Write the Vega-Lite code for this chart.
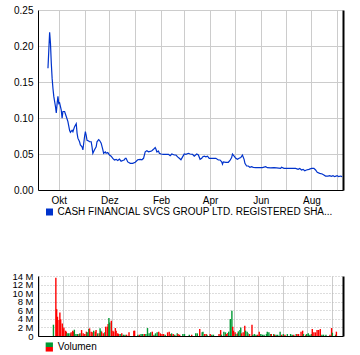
{
  "$schema": "https://vega.github.io/schema/vega-lite/v6.json",
  "padding": {"left": 11, "top": 5, "right": 5, "bottom": 2},
  "spacing": 54,
  "config": {
    "view": {"stroke": null},
    "axis": {"labelFont": "Liberation Sans", "labelFontSize": 10, "labelColor": "#000000", "gridColor": "#cccccc", "gridWidth": 1, "domainColor": "#000000", "domainWidth": 1, "ticks": false},
    "legend": {"labelFont": "Liberation Sans", "labelFontSize": 10, "labelColor": "#000000", "padding": 0}
  },
  "resolve": {"scale": {"color": "independent", "fill": "independent", "x": "independent", "y": "independent"}, "legend": {"color": "independent", "fill": "independent"}},
  "datasets": {
    "price": [
      {"date": "2022-09-18", "price": 0.169}, {"date": "2022-09-19", "price": 0.194}, {"date": "2022-09-20", "price": 0.219}, {"date": "2022-09-21", "price": 0.204}, {"date": "2022-09-22", "price": 0.176}, {"date": "2022-09-23", "price": 0.155}, {"date": "2022-09-24", "price": 0.141}, {"date": "2022-09-25", "price": 0.130}, {"date": "2022-09-27", "price": 0.116}, {"date": "2022-09-28", "price": 0.107}, {"date": "2022-09-29", "price": 0.120}, {"date": "2022-09-30", "price": 0.130},
      {"date": "2022-10-01", "price": 0.120}, {"date": "2022-10-02", "price": 0.121}, {"date": "2022-10-04", "price": 0.111}, {"date": "2022-10-05", "price": 0.0996}, {"date": "2022-10-06", "price": 0.109}, {"date": "2022-10-08", "price": 0.109}, {"date": "2022-10-10", "price": 0.102}, {"date": "2022-10-12", "price": 0.095}, {"date": "2022-10-14", "price": 0.083}, {"date": "2022-10-15", "price": 0.080}, {"date": "2022-10-17", "price": 0.083}, {"date": "2022-10-18", "price": 0.081}, {"date": "2022-10-20", "price": 0.088}, {"date": "2022-10-22", "price": 0.092}, {"date": "2022-10-23", "price": 0.079}, {"date": "2022-10-24", "price": 0.072}, {"date": "2022-10-26", "price": 0.067}, {"date": "2022-10-27", "price": 0.0625}, {"date": "2022-10-29", "price": 0.060}, {"date": "2022-10-30", "price": 0.0556},
      {"date": "2022-11-01", "price": 0.074}, {"date": "2022-11-02", "price": 0.081}, {"date": "2022-11-03", "price": 0.076}, {"date": "2022-11-04", "price": 0.069}, {"date": "2022-11-06", "price": 0.068}, {"date": "2022-11-07", "price": 0.067}, {"date": "2022-11-09", "price": 0.067}, {"date": "2022-11-10", "price": 0.060}, {"date": "2022-11-11", "price": 0.051}, {"date": "2022-11-13", "price": 0.056}, {"date": "2022-11-15", "price": 0.060}, {"date": "2022-11-16", "price": 0.067}, {"date": "2022-11-18", "price": 0.070}, {"date": "2022-11-19", "price": 0.069}, {"date": "2022-11-21", "price": 0.065}, {"date": "2022-11-23", "price": 0.056}, {"date": "2022-11-24", "price": 0.051}, {"date": "2022-11-26", "price": 0.053}, {"date": "2022-11-27", "price": 0.051}, {"date": "2022-11-29", "price": 0.052},
      {"date": "2022-12-01", "price": 0.0486}, {"date": "2022-12-03", "price": 0.047}, {"date": "2022-12-05", "price": 0.044}, {"date": "2022-12-07", "price": 0.0417}, {"date": "2022-12-09", "price": 0.0426}, {"date": "2022-12-11", "price": 0.041}, {"date": "2022-12-13", "price": 0.043}, {"date": "2022-12-15", "price": 0.040}, {"date": "2022-12-17", "price": 0.041}, {"date": "2022-12-19", "price": 0.042}, {"date": "2022-12-20", "price": 0.044}, {"date": "2022-12-21", "price": 0.044}, {"date": "2022-12-23", "price": 0.039}, {"date": "2022-12-26", "price": 0.037}, {"date": "2022-12-29", "price": 0.037},
      {"date": "2023-01-01", "price": 0.0385}, {"date": "2023-01-04", "price": 0.042}, {"date": "2023-01-07", "price": 0.0426}, {"date": "2023-01-09", "price": 0.042}, {"date": "2023-01-11", "price": 0.044}, {"date": "2023-01-13", "price": 0.053}, {"date": "2023-01-15", "price": 0.0546}, {"date": "2023-01-17", "price": 0.053}, {"date": "2023-01-20", "price": 0.054}, {"date": "2023-01-21", "price": 0.0546}, {"date": "2023-01-23", "price": 0.0565}, {"date": "2023-01-25", "price": 0.059}, {"date": "2023-01-26", "price": 0.0565}, {"date": "2023-01-27", "price": 0.053}, {"date": "2023-01-29", "price": 0.054}, {"date": "2023-01-30", "price": 0.051},
      {"date": "2023-02-01", "price": 0.050}, {"date": "2023-02-04", "price": 0.0496}, {"date": "2023-02-07", "price": 0.0496}, {"date": "2023-02-10", "price": 0.0496}, {"date": "2023-02-12", "price": 0.0476}, {"date": "2023-02-14", "price": 0.050}, {"date": "2023-02-17", "price": 0.0486}, {"date": "2023-02-19", "price": 0.0486}, {"date": "2023-02-21", "price": 0.046}, {"date": "2023-02-23", "price": 0.044}, {"date": "2023-02-25", "price": 0.042}, {"date": "2023-02-27", "price": 0.046},
      {"date": "2023-03-01", "price": 0.050}, {"date": "2023-03-03", "price": 0.0496}, {"date": "2023-03-06", "price": 0.051}, {"date": "2023-03-08", "price": 0.050}, {"date": "2023-03-11", "price": 0.0496}, {"date": "2023-03-13", "price": 0.047}, {"date": "2023-03-16", "price": 0.050}, {"date": "2023-03-18", "price": 0.0486}, {"date": "2023-03-20", "price": 0.0426}, {"date": "2023-03-22", "price": 0.044}, {"date": "2023-03-23", "price": 0.046}, {"date": "2023-03-25", "price": 0.047}, {"date": "2023-03-27", "price": 0.046}, {"date": "2023-03-29", "price": 0.047}, {"date": "2023-03-31", "price": 0.044},
      {"date": "2023-04-04", "price": 0.044}, {"date": "2023-04-08", "price": 0.044}, {"date": "2023-04-11", "price": 0.0417}, {"date": "2023-04-13", "price": 0.0417}, {"date": "2023-04-15", "price": 0.039}, {"date": "2023-04-16", "price": 0.0357}, {"date": "2023-04-17", "price": 0.039}, {"date": "2023-04-20", "price": 0.0385}, {"date": "2023-04-23", "price": 0.0385}, {"date": "2023-04-25", "price": 0.041}, {"date": "2023-04-27", "price": 0.045}, {"date": "2023-04-28", "price": 0.050}, {"date": "2023-04-30", "price": 0.047},
      {"date": "2023-05-02", "price": 0.044}, {"date": "2023-05-04", "price": 0.0426}, {"date": "2023-05-06", "price": 0.044}, {"date": "2023-05-08", "price": 0.045}, {"date": "2023-05-10", "price": 0.0486}, {"date": "2023-05-12", "price": 0.0426}, {"date": "2023-05-13", "price": 0.037}, {"date": "2023-05-15", "price": 0.0333}, {"date": "2023-05-17", "price": 0.0333}, {"date": "2023-05-19", "price": 0.0315}, {"date": "2023-05-21", "price": 0.0324}, {"date": "2023-05-23", "price": 0.0315}, {"date": "2023-05-26", "price": 0.031}, {"date": "2023-05-30", "price": 0.031},
      {"date": "2023-06-03", "price": 0.031}, {"date": "2023-06-07", "price": 0.0324}, {"date": "2023-06-09", "price": 0.031}, {"date": "2023-06-13", "price": 0.0306}, {"date": "2023-06-17", "price": 0.031}, {"date": "2023-06-20", "price": 0.0306}, {"date": "2023-06-25", "price": 0.030}, {"date": "2023-06-26", "price": 0.0315}, {"date": "2023-06-29", "price": 0.030},
      {"date": "2023-07-05", "price": 0.030}, {"date": "2023-07-13", "price": 0.030}, {"date": "2023-07-16", "price": 0.0287}, {"date": "2023-07-18", "price": 0.030}, {"date": "2023-07-20", "price": 0.0278}, {"date": "2023-07-22", "price": 0.0287}, {"date": "2023-07-24", "price": 0.0268}, {"date": "2023-07-26", "price": 0.0278}, {"date": "2023-07-29", "price": 0.0287},
      {"date": "2023-08-01", "price": 0.030}, {"date": "2023-08-04", "price": 0.030}, {"date": "2023-08-06", "price": 0.0278}, {"date": "2023-08-08", "price": 0.0245}, {"date": "2023-08-11", "price": 0.0231}, {"date": "2023-08-14", "price": 0.0222}, {"date": "2023-08-16", "price": 0.0208}, {"date": "2023-08-18", "price": 0.0194}, {"date": "2023-08-21", "price": 0.0194}, {"date": "2023-08-23", "price": 0.0199}, {"date": "2023-08-25", "price": 0.019}, {"date": "2023-08-27", "price": 0.0199}, {"date": "2023-08-29", "price": 0.0185},
      {"date": "2023-09-01", "price": 0.0199}, {"date": "2023-09-03", "price": 0.0185}, {"date": "2023-09-05", "price": 0.0194}, {"date": "2023-09-07", "price": 0.0185}
    ],
    "volume": [
      {"date": "2022-09-19", "volume": 2630000, "dir": "up"}, {"date": "2022-09-22", "volume": 13600000, "dir": "down"}, {"date": "2022-09-23", "volume": 6260000, "dir": "down"}, {"date": "2022-09-24", "volume": 4490000, "dir": "down"}, {"date": "2022-09-26", "volume": 3710000, "dir": "down"}, {"date": "2022-09-27", "volume": 5490000, "dir": "down"}, {"date": "2022-09-28", "volume": 3900000, "dir": "down"}, {"date": "2022-09-30", "volume": 2940000, "dir": "down"},
      {"date": "2022-10-01", "volume": 1620000, "dir": "down"}, {"date": "2022-10-02", "volume": 2010000, "dir": "down"}, {"date": "2022-10-04", "volume": 1240000, "dir": "down"}, {"date": "2022-10-05", "volume": 1010000, "dir": "down"}, {"date": "2022-10-06", "volume": 620000, "dir": "up"}, {"date": "2022-10-08", "volume": 620000, "dir": "up"}, {"date": "2022-10-10", "volume": 620000, "dir": "up"}, {"date": "2022-10-11", "volume": 850000, "dir": "down"}, {"date": "2022-10-13", "volume": 1240000, "dir": "down"}, {"date": "2022-10-14", "volume": 1010000, "dir": "down"}, {"date": "2022-10-15", "volume": 1470000, "dir": "up"}, {"date": "2022-10-17", "volume": 460000, "dir": "up"}, {"date": "2022-10-19", "volume": 460000, "dir": "up"}, {"date": "2022-10-21", "volume": 460000, "dir": "down"}, {"date": "2022-10-22", "volume": 620000, "dir": "up"}, {"date": "2022-10-24", "volume": 1390000, "dir": "down"}, {"date": "2022-10-26", "volume": 620000, "dir": "down"}, {"date": "2022-10-28", "volume": 460000, "dir": "down"}, {"date": "2022-10-30", "volume": 1010000, "dir": "down"}, {"date": "2022-10-31", "volume": 850000, "dir": "up"},
      {"date": "2022-11-02", "volume": 1620000, "dir": "up"}, {"date": "2022-11-03", "volume": 1780000, "dir": "down"}, {"date": "2022-11-05", "volume": 1010000, "dir": "down"}, {"date": "2022-11-07", "volume": 850000, "dir": "down"}, {"date": "2022-11-08", "volume": 1240000, "dir": "up"}, {"date": "2022-11-10", "volume": 1010000, "dir": "down"}, {"date": "2022-11-11", "volume": 1390000, "dir": "down"}, {"date": "2022-11-13", "volume": 620000, "dir": "up"}, {"date": "2022-11-15", "volume": 620000, "dir": "down"}, {"date": "2022-11-16", "volume": 1780000, "dir": "up"}, {"date": "2022-11-17", "volume": 1240000, "dir": "up"}, {"date": "2022-11-18", "volume": 1010000, "dir": "down"}, {"date": "2022-11-20", "volume": 620000, "dir": "down"}, {"date": "2022-11-22", "volume": 850000, "dir": "up"}, {"date": "2022-11-23", "volume": 2170000, "dir": "down"}, {"date": "2022-11-25", "volume": 2170000, "dir": "down"}, {"date": "2022-11-26", "volume": 2780000, "dir": "down"}, {"date": "2022-11-27", "volume": 4180000, "dir": "up"}, {"date": "2022-11-28", "volume": 3170000, "dir": "up"}, {"date": "2022-11-30", "volume": 3560000, "dir": "down"},
      {"date": "2022-12-02", "volume": 1240000, "dir": "down"}, {"date": "2022-12-03", "volume": 1010000, "dir": "down"}, {"date": "2022-12-05", "volume": 1860000, "dir": "down"}, {"date": "2022-12-06", "volume": 1240000, "dir": "down"}, {"date": "2022-12-08", "volume": 620000, "dir": "down"}, {"date": "2022-12-09", "volume": 460000, "dir": "down"}, {"date": "2022-12-11", "volume": 460000, "dir": "up"}, {"date": "2022-12-13", "volume": 620000, "dir": "down"}, {"date": "2022-12-15", "volume": 310000, "dir": "up"}, {"date": "2022-12-17", "volume": 310000, "dir": "up"}, {"date": "2022-12-19", "volume": 310000, "dir": "down"}, {"date": "2022-12-22", "volume": 850000, "dir": "down"}, {"date": "2022-12-28", "volume": 1240000, "dir": "down"}, {"date": "2022-12-29", "volume": 1240000, "dir": "down"},
      {"date": "2023-01-02", "volume": 310000, "dir": "up"}, {"date": "2023-01-04", "volume": 310000, "dir": "down"}, {"date": "2023-01-06", "volume": 460000, "dir": "up"}, {"date": "2023-01-08", "volume": 460000, "dir": "up"}, {"date": "2023-01-10", "volume": 460000, "dir": "down"}, {"date": "2023-01-12", "volume": 460000, "dir": "up"}, {"date": "2023-01-14", "volume": 1860000, "dir": "up"}, {"date": "2023-01-16", "volume": 620000, "dir": "up"}, {"date": "2023-01-18", "volume": 850000, "dir": "up"}, {"date": "2023-01-20", "volume": 1010000, "dir": "down"}, {"date": "2023-01-22", "volume": 310000, "dir": "up"}, {"date": "2023-01-24", "volume": 620000, "dir": "up"}, {"date": "2023-01-26", "volume": 850000, "dir": "up"}, {"date": "2023-01-28", "volume": 1010000, "dir": "down"}, {"date": "2023-01-30", "volume": 620000, "dir": "down"},
      {"date": "2023-02-01", "volume": 460000, "dir": "down"}, {"date": "2023-02-03", "volume": 460000, "dir": "down"}, {"date": "2023-02-05", "volume": 310000, "dir": "up"}, {"date": "2023-02-08", "volume": 850000, "dir": "down"}, {"date": "2023-02-10", "volume": 1010000, "dir": "down"}, {"date": "2023-02-12", "volume": 460000, "dir": "down"}, {"date": "2023-02-13", "volume": 620000, "dir": "up"}, {"date": "2023-02-15", "volume": 460000, "dir": "down"}, {"date": "2023-02-17", "volume": 310000, "dir": "up"}, {"date": "2023-02-20", "volume": 620000, "dir": "up"}, {"date": "2023-02-21", "volume": 460000, "dir": "down"}, {"date": "2023-02-23", "volume": 310000, "dir": "down"}, {"date": "2023-02-27", "volume": 460000, "dir": "up"},
      {"date": "2023-03-01", "volume": 460000, "dir": "up"}, {"date": "2023-03-07", "volume": 310000, "dir": "up"}, {"date": "2023-03-10", "volume": 310000, "dir": "down"}, {"date": "2023-03-15", "volume": 620000, "dir": "up"}, {"date": "2023-03-17", "volume": 620000, "dir": "up"}, {"date": "2023-03-20", "volume": 1620000, "dir": "down"}, {"date": "2023-03-23", "volume": 850000, "dir": "up"}, {"date": "2023-03-24", "volume": 1010000, "dir": "up"}, {"date": "2023-03-26", "volume": 460000, "dir": "down"}, {"date": "2023-03-28", "volume": 460000, "dir": "down"}, {"date": "2023-03-29", "volume": 310000, "dir": "up"},
      {"date": "2023-04-02", "volume": 460000, "dir": "down"}, {"date": "2023-04-04", "volume": 310000, "dir": "up"}, {"date": "2023-04-06", "volume": 310000, "dir": "up"}, {"date": "2023-04-13", "volume": 460000, "dir": "down"}, {"date": "2023-04-15", "volume": 1390000, "dir": "down"}, {"date": "2023-04-16", "volume": 310000, "dir": "up"}, {"date": "2023-04-19", "volume": 1010000, "dir": "up"}, {"date": "2023-04-21", "volume": 850000, "dir": "up"}, {"date": "2023-04-22", "volume": 460000, "dir": "down"}, {"date": "2023-04-24", "volume": 700000, "dir": "down"}, {"date": "2023-04-25", "volume": 1010000, "dir": "up"}, {"date": "2023-04-27", "volume": 3940000, "dir": "up"}, {"date": "2023-04-29", "volume": 5880000, "dir": "up"}, {"date": "2023-04-30", "volume": 2170000, "dir": "down"},
      {"date": "2023-05-01", "volume": 1240000, "dir": "down"}, {"date": "2023-05-03", "volume": 850000, "dir": "down"}, {"date": "2023-05-04", "volume": 460000, "dir": "up"}, {"date": "2023-05-06", "volume": 620000, "dir": "down"}, {"date": "2023-05-07", "volume": 1080000, "dir": "up"}, {"date": "2023-05-09", "volume": 1390000, "dir": "up"}, {"date": "2023-05-10", "volume": 2010000, "dir": "up"}, {"date": "2023-05-11", "volume": 620000, "dir": "down"}, {"date": "2023-05-13", "volume": 850000, "dir": "down"}, {"date": "2023-05-15", "volume": 2400000, "dir": "down"}, {"date": "2023-05-16", "volume": 1240000, "dir": "up"}, {"date": "2023-05-18", "volume": 1010000, "dir": "up"}, {"date": "2023-05-19", "volume": 620000, "dir": "up"}, {"date": "2023-05-21", "volume": 460000, "dir": "down"}, {"date": "2023-05-24", "volume": 2630000, "dir": "down"}, {"date": "2023-05-25", "volume": 310000, "dir": "up"}, {"date": "2023-05-27", "volume": 460000, "dir": "up"}, {"date": "2023-05-29", "volume": 310000, "dir": "up"}, {"date": "2023-05-31", "volume": 310000, "dir": "down"},
      {"date": "2023-06-02", "volume": 1010000, "dir": "down"}, {"date": "2023-06-04", "volume": 460000, "dir": "up"}, {"date": "2023-06-06", "volume": 310000, "dir": "up"}, {"date": "2023-06-08", "volume": 310000, "dir": "up"}, {"date": "2023-06-11", "volume": 460000, "dir": "up"}, {"date": "2023-06-12", "volume": 1010000, "dir": "up"}, {"date": "2023-06-14", "volume": 850000, "dir": "up"}, {"date": "2023-06-16", "volume": 460000, "dir": "up"}, {"date": "2023-06-17", "volume": 460000, "dir": "down"}, {"date": "2023-06-20", "volume": 460000, "dir": "up"}, {"date": "2023-06-21", "volume": 310000, "dir": "down"}, {"date": "2023-06-23", "volume": 310000, "dir": "up"}, {"date": "2023-06-25", "volume": 310000, "dir": "up"}, {"date": "2023-06-28", "volume": 1010000, "dir": "up"}, {"date": "2023-06-30", "volume": 310000, "dir": "down"},
      {"date": "2023-07-02", "volume": 460000, "dir": "up"}, {"date": "2023-07-04", "volume": 310000, "dir": "down"}, {"date": "2023-07-07", "volume": 460000, "dir": "up"}, {"date": "2023-07-11", "volume": 460000, "dir": "up"}, {"date": "2023-07-13", "volume": 310000, "dir": "up"}, {"date": "2023-07-15", "volume": 310000, "dir": "down"}, {"date": "2023-07-18", "volume": 460000, "dir": "up"}, {"date": "2023-07-19", "volume": 460000, "dir": "down"}, {"date": "2023-07-21", "volume": 460000, "dir": "down"}, {"date": "2023-07-24", "volume": 1010000, "dir": "down"}, {"date": "2023-07-26", "volume": 1240000, "dir": "down"}, {"date": "2023-07-27", "volume": 460000, "dir": "up"}, {"date": "2023-07-30", "volume": 310000, "dir": "down"}, {"date": "2023-07-31", "volume": 460000, "dir": "up"},
      {"date": "2023-08-02", "volume": 620000, "dir": "up"}, {"date": "2023-08-04", "volume": 310000, "dir": "up"}, {"date": "2023-08-06", "volume": 460000, "dir": "up"}, {"date": "2023-08-07", "volume": 1620000, "dir": "down"}, {"date": "2023-08-09", "volume": 850000, "dir": "down"}, {"date": "2023-08-11", "volume": 850000, "dir": "down"}, {"date": "2023-08-13", "volume": 1390000, "dir": "down"}, {"date": "2023-08-15", "volume": 1390000, "dir": "down"}, {"date": "2023-08-17", "volume": 1620000, "dir": "down"}, {"date": "2023-08-19", "volume": 310000, "dir": "up"}, {"date": "2023-08-21", "volume": 310000, "dir": "up"}, {"date": "2023-08-24", "volume": 310000, "dir": "up"}, {"date": "2023-08-29", "volume": 310000, "dir": "down"}, {"date": "2023-08-31", "volume": 1860000, "dir": "down"},
      {"date": "2023-09-01", "volume": 770000, "dir": "up"}, {"date": "2023-09-05", "volume": 310000, "dir": "up"}, {"date": "2023-09-06", "volume": 1010000, "dir": "down"}
    ]
  },
  "vconcat": [
    {
      "width": 305,
      "height": 180,
      "data": {"name": "price"},
      "encoding": {
        "x": {
          "field": "date", "type": "temporal", "title": null,
          "scale": {"type": "utc", "domain": [{"year": 2022, "month": "sep", "date": 6, "utc": true}, {"year": 2023, "month": "sep", "date": 8, "utc": true}]},
          "axis": {"tickCount": {"interval": "month", "step": 1}, "grid": true, "labelPadding": 5, "labelFlush": false, "labelOverlap": false,
                   "labelExpr": "utcmonth(datum.value) % 2 == 1 ? ['Jan','Feb','Mär','Apr','Mai','Jun','Jul','Aug','Sep','Okt','Nov','Dez'][utcmonth(datum.value)] : ''"}
        }
      },
      "layer": [
        {
          "mark": {"type": "line", "strokeWidth": 1.2},
          "encoding": {
            "y": {"field": "price", "type": "quantitative", "title": null,
                  "scale": {"domain": [0, 0.25], "nice": false},
                  "axis": {"values": [0, 0.05, 0.1, 0.15, 0.2, 0.25], "format": ".2f", "grid": true, "labelPadding": 5, "labelOverlap": false}},
            "color": {
              "datum": "CASH FINANCIAL SVCS GROUP LTD. REGISTERED SHA...", "type": "nominal",
              "scale": {"range": ["#0033cc"]},
              "legend": {"orient": "none", "legendX": 6.5, "legendY": 197, "title": null, "symbolType": "square", "symbolSize": 49, "labelLimit": 400, "labelOffset": 3,
                         "encode": {"symbols": {"update": {"fill": {"value": "#0033cc"}, "strokeWidth": {"value": 0}}}}}
            }
          }
        },
        {
          "mark": {"type": "line", "strokeOpacity": 0},
          "encoding": {
            "y": {"field": "price", "type": "quantitative", "title": null,
                  "axis": {"orient": "right", "labels": false, "grid": false, "domainWidth": 2}}
          }
        }
      ],
      "resolve": {"axis": {"y": "independent"}}
    },
    {
      "width": 305,
      "height": 60,
      "data": {"name": "volume"},
      "encoding": {
        "x": {
          "field": "date", "type": "temporal", "title": null,
          "scale": {"type": "utc", "domain": [{"year": 2022, "month": "sep", "date": 6, "utc": true}, {"year": 2023, "month": "sep", "date": 8, "utc": true}]},
          "axis": {"tickCount": {"interval": "month", "step": 1}, "grid": true, "labels": false}
        }
      },
      "layer": [
        {
          "mark": {"type": "bar", "size": 1.4},
          "encoding": {
            "y": {"field": "volume", "type": "quantitative", "title": null,
                  "scale": {"domain": [0, 14000000], "nice": false},
                  "axis": {"values": [0, 2000000, 4000000, 6000000, 8000000, 10000000, 12000000, 14000000], "grid": true, "gridDash": [1, 2], "gridColor": "#bbbbbb", "labelPadding": 5, "labelOverlap": false, "labelFlush": false, "labelFontSize": 9.5,
                           "labelExpr": "datum.value == 0 ? '0' : format(datum.value / 1000000, 'd') + ' M'"}},
            "color": {
              "field": "dir", "type": "nominal",
              "scale": {"domain": ["up", "down"], "range": ["#009933", "#ff0000"]},
              "legend": {"orient": "none", "legendX": 6.3, "legendY": 66, "title": null, "values": ["up"], "labelExpr": "'Volumen'",
                         "symbolType": "M-1,-1.25H1V0H-1Z", "symbolSize": 53, "symbolStrokeWidth": 0, "labelOffset": 3.5}
            }
          }
        },
        {
          "mark": {"type": "bar", "opacity": 0},
          "encoding": {
            "y": {"field": "volume", "type": "quantitative", "title": null,
                  "axis": {"orient": "right", "labels": false, "grid": false, "domainWidth": 2}},
            "fill": {
              "datum": "down", "type": "nominal",
              "scale": {"range": ["#ff0000"]},
              "legend": {"orient": "none", "legendX": 6.3, "legendY": 66, "title": null, "labelExpr": "''",
                         "symbolType": "M-1,0H1V1.25H-1Z", "symbolSize": 53, "symbolStrokeWidth": 0, "symbolOpacity": 1, "labelOffset": 3.5}
            }
          }
        }
      ],
      "resolve": {"axis": {"y": "independent"}}
    }
  ]
}
